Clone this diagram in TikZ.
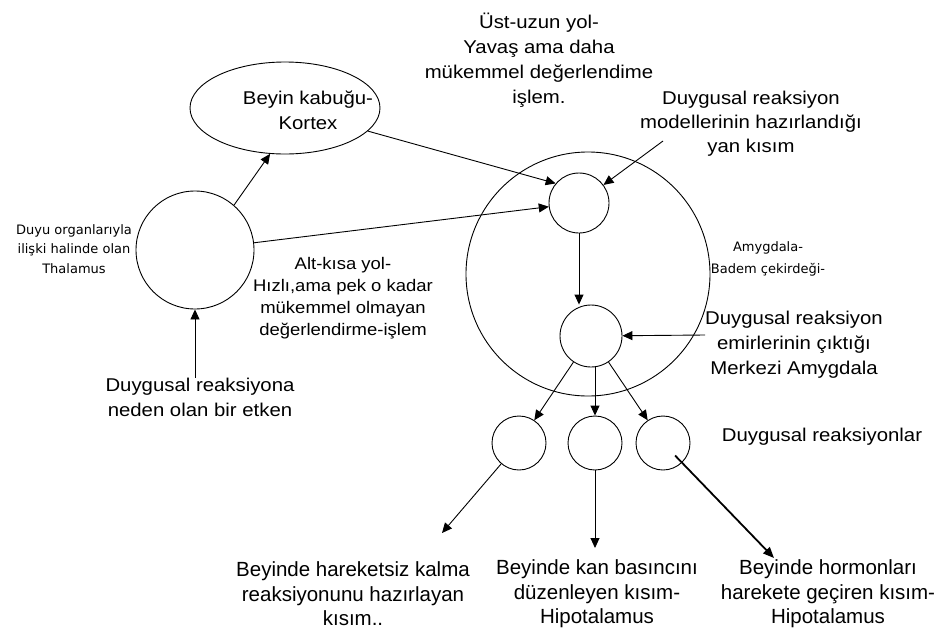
\documentclass[tikz,border=0pt]{standalone}
\usepackage{fontspec}
\setmainfont{Liberation Sans}[FakeStretch=1.1]
\newfontfamily\smallfont{DejaVu Sans}
\newfontfamily\botfont{Liberation Sans}
\usetikzlibrary{arrows.meta,shapes.geometric}
\begin{document}
\begin{tikzpicture}[x=1pt,y=-1pt,
  ring/.style={draw,circle,line width=0.9pt,inner sep=0pt},
  arr/.style={-{Triangle[length=10pt,width=9pt]},line width=0.9pt},
  txt/.style={align=center,inner sep=0pt,font=\fontsize{18.5}{25}\selectfont},
  alttxt/.style={align=center,inner sep=0pt,font=\fontsize{16.8}{22}\selectfont},
  smalltxt/.style={align=center,inner sep=0pt,font=\smallfont\fontsize{13}{19.5}\selectfont},
  bottxt/.style={align=center,inner sep=0pt,font=\botfont\fontsize{20.5}{24.5}\selectfont}]
\fill[white] (0,0) rectangle (940,632);
\useasboundingbox (0,0) rectangle (940,632);

% shapes
\node[draw,ellipse,line width=0.9pt,minimum width=190pt,minimum height=92pt,inner sep=0pt] (kortex) at (285,108) {};
\node[txt] (kortextxt) at (308,110) {Beyin kabuğu-\\Kortex};
\node[ring,minimum size=118pt] (thal) at (195,250) {};
\node[ring,minimum size=244pt] (amyg) at (588,274) {};
\node[ring,minimum size=60pt] (up) at (579,203) {};
\node[ring,minimum size=62pt] (mid) at (591,336) {};
\node[ring,minimum size=54pt] (c1) at (519,443) {};
\node[ring,minimum size=54pt] (c2) at (595,443) {};
\node[ring,minimum size=54pt] (c3) at (663,443) {};

% texts
\node[txt] (ust) at (539,60) {Üst-uzun yol-\\Yavaş ama daha\\mükemmel değerlendime\\işlem.};
\node[smalltxt] (thaltxt) at (74,249) {Duyu organlarıyla\\ilişki halinde olan\\Thalamus};
\node[alttxt] (alt) at (343,298) {Alt-kısa yol-\\Hızlı,ama pek o kadar\\mükemmel olmayan\\değerlendirme-işlem};
\node[txt] (etken) at (200,397) {Duygusal reaksiyona\\neden olan bir etken};
\node[txt,font=\fontsize{18.5}{24}\selectfont] (model) at (751,124) {Duygusal reaksiyon\\modellerinin hazırlandığı\\yan kısım};
\node[smalltxt,font=\smallfont\fontsize{13}{22}\selectfont] (amygtxt) at (768,259) {Amygdala-\\Badem çekirdeği-};
\node[txt] (emir) at (794,345) {Duygusal reaksiyon\\emirlerinin çıktığı\\Merkezi Amygdala};
\node[txt] (reak) at (822,437) {Duygusal reaksiyonlar};
\node[bottxt] (b1) at (353,594) {Beyinde hareketsiz kalma\\reaksiyonunu hazırlayan\\kısım..};
\node[bottxt] (b2) at (597,594) {Beyinde kan basıncını\\düzenleyen kısım-\\Hipotalamus};
\node[bottxt] (b3) at (828,594) {Beyinde hormonları\\harekete geçiren kısım-\\Hipotalamus};

% free ends
\coordinate (m1) at (663,141);
\coordinate (e1start) at (705,335);
\coordinate (f1) at (442,533);
\coordinate (f2) at (595,548);
\coordinate (f3) at (774,558);

% connectors
\draw[arr] (etken.north -| thal.south) -- (thal.south);
\draw[arr] (thal.49) -- (kortex.252);
\draw[arr] (thal) -- (up);
\draw[arr] (kortex) -- (up.140);
\draw[arr] (m1) -- (up);
\draw[arr] (up.south) -- (up.south |- mid.north);
\draw[arr] (e1start) -- (mid);
\draw[arr] (mid) -- (c1);
\draw[arr] (mid.south -| c2.north) -- (c2.north);
\draw[arr] (mid) -- (c3);
\draw[arr] (c1) -- (f1);
\draw[arr] (c2) -- (f2);
\draw[-{Triangle[length=11pt,width=9pt]},line width=1.8pt,shorten <=-10pt] (c3) -- (f3);
\end{tikzpicture}
\end{document}
